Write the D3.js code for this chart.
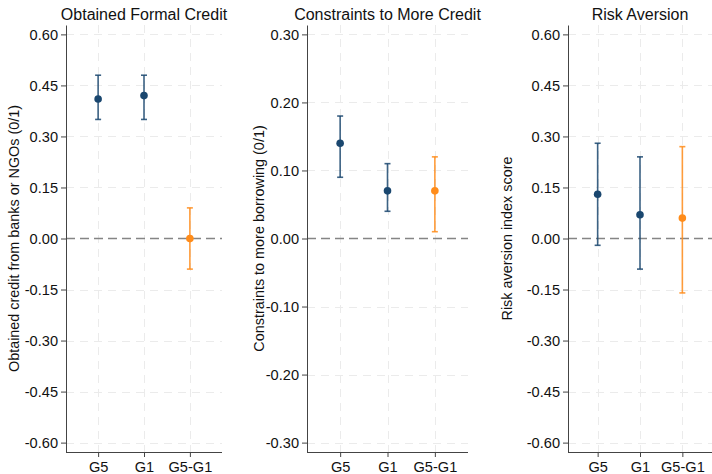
<!DOCTYPE html>
<html>
<head>
<meta charset="utf-8">
<script src="https://cdn.jsdelivr.net/npm/d3@7"></script>
<style>
  body { margin: 0; background: #fff; }
  svg { display: block; font-family: "Liberation Sans", Arial, Helvetica, sans-serif; }
</style>
</head>
<body>
<div id="chart"></div>
<script>
const categories = ['G5', 'G1', 'G5-G1'];
const titles = ['Obtained Formal Credit', 'Constraints to More Credit', 'Risk Aversion'];
const yTitles = ['Obtained credit from banks or NGOs (0/1)', 'Constraints to more borrowing (0/1)', 'Risk aversion index score'];

const ticksWide = [0.60, 0.45, 0.30, 0.15, 0.00, -0.15, -0.30, -0.45, -0.60];
const ticksNarrow = [0.30, 0.20, 0.10, 0.00, -0.10, -0.20, -0.30];

// point estimates and 95% bounds, per panel, in category order
const creditEst = [0.41, 0.42, 0.00];
const creditLo = [0.35, 0.35, -0.09];
const creditHi = [0.48, 0.48, 0.09];

const constraintEst = [0.14, 0.07, 0.07];
const constraintLo = [0.09, 0.04, 0.01];
const constraintHi = [0.18, 0.11, 0.12];

const riskEst = [0.13, 0.07, 0.06];
const riskLo = [-0.02, -0.09, -0.16];
const riskHi = [0.28, 0.24, 0.27];

const width = 712, height = 474;
const plotTop = 25, plotBottom = 452;
const blue = '#1a476f', orange = '#ff8c1a';

const panels = [
    { left: 66, right: 222, labelX: 14, ticks: ticksWide, max: 0.6, est: creditEst, lo: creditLo, hi: creditHi },
    { left: 307, right: 468, labelX: 259, ticks: ticksNarrow, max: 0.3, est: constraintEst, lo: constraintLo, hi: constraintHi },
    { left: 568, right: 712, labelX: 507, ticks: ticksWide, max: 0.6, est: riskEst, lo: riskLo, hi: riskHi }
];

const svg = d3.select('#chart')
    .append('svg')
    .attr('width', width)
    .attr('height', height);

panels.forEach((p, k) => {
    const pad = p.max * 0.046;
    const y = d3.scaleLinear()
        .domain([-p.max - pad, p.max + pad])
        .range([plotBottom, plotTop]);
    const x = d3.scalePoint()
        .domain(categories)
        .range([p.left, p.right])
        .padding(0.7);

    const g = svg.append('g');

    // grid
    g.selectAll('.hgrid')
        .data(p.ticks.filter(t => t !== 0))
        .join('line')
        .attr('x1', p.left).attr('x2', p.right)
        .attr('y1', d => Math.round(y(d)) + 0.5).attr('y2', d => Math.round(y(d)) + 0.5)
        .attr('stroke', '#ebebeb')
        .attr('stroke-dasharray', '8,6');
    g.selectAll('.vgrid')
        .data(categories)
        .join('line')
        .attr('x1', d => Math.round(x(d)) + 0.5).attr('x2', d => Math.round(x(d)) + 0.5)
        .attr('y1', plotTop).attr('y2', plotBottom)
        .attr('stroke', '#ebebeb')
        .attr('stroke-dasharray', '8,6');

    // zero reference
    g.append('line')
        .attr('x1', p.left).attr('x2', p.right)
        .attr('y1', y(0)).attr('y2', y(0))
        .attr('stroke', '#858585')
        .attr('stroke-width', 1.5)
        .attr('stroke-dasharray', '9,5');

    // axes
    const yAxis = g.append('g')
        .attr('transform', `translate(${p.left},0)`)
        .call(d3.axisLeft(y).tickValues(p.ticks).tickFormat(d => d.toFixed(2)).tickSize(5).tickSizeOuter(0).tickPadding(3));
    const xAxis = g.append('g')
        .attr('transform', `translate(0,${plotBottom})`)
        .call(d3.axisBottom(x).tickSize(5).tickSizeOuter(0).tickPadding(5));
    [yAxis, xAxis].forEach(a => {
        a.selectAll('path, line').attr('stroke', '#444');
        a.selectAll('text').attr('font-size', 14.6).attr('fill', '#111')
            .attr('font-family', '"Liberation Sans", Arial, sans-serif');
    });
    xAxis.select('.domain').attr('d', `M${p.left},0.5H${p.right}`);

    // titles
    g.append('text')
        .attr('x', (p.left + p.right) / 2)
        .attr('y', 19.5)
        .attr('text-anchor', 'middle')
        .attr('font-size', 16)
        .attr('fill', '#111')
        .text(titles[k]);
    g.append('text')
        .attr('transform', `translate(${p.labelX},${(plotTop + plotBottom) / 2}) rotate(-90)`)
        .attr('text-anchor', 'middle')
        .attr('dy', '0.35em')
        .attr('font-size', 14.4)
        .attr('fill', '#111')
        .text(yTitles[k]);

    // estimates with intervals
    const rows = categories.map((c, i) => ({ c, est: p.est[i], lo: p.lo[i], hi: p.hi[i], color: i === 2 ? orange : blue }));
    const bars = g.selectAll('.ci').data(rows).join('g');
    bars.append('line')
        .attr('x1', d => x(d.c)).attr('x2', d => x(d.c))
        .attr('y1', d => y(d.lo)).attr('y2', d => y(d.hi))
        .attr('stroke', d => d.color).attr('stroke-width', 1.6).attr('stroke-opacity', 0.85);
    ['lo', 'hi'].forEach(key => {
        bars.append('line')
            .attr('x1', d => x(d.c) - 3).attr('x2', d => x(d.c) + 3)
            .attr('y1', d => y(d[key])).attr('y2', d => y(d[key]))
            .attr('stroke', d => d.color).attr('stroke-width', 1.6).attr('stroke-opacity', 0.85);
    });
    bars.append('circle')
        .attr('cx', d => x(d.c)).attr('cy', d => y(d.est))
        .attr('r', 3.8)
        .attr('fill', d => d.color);
});
</script>
</body>
</html>
